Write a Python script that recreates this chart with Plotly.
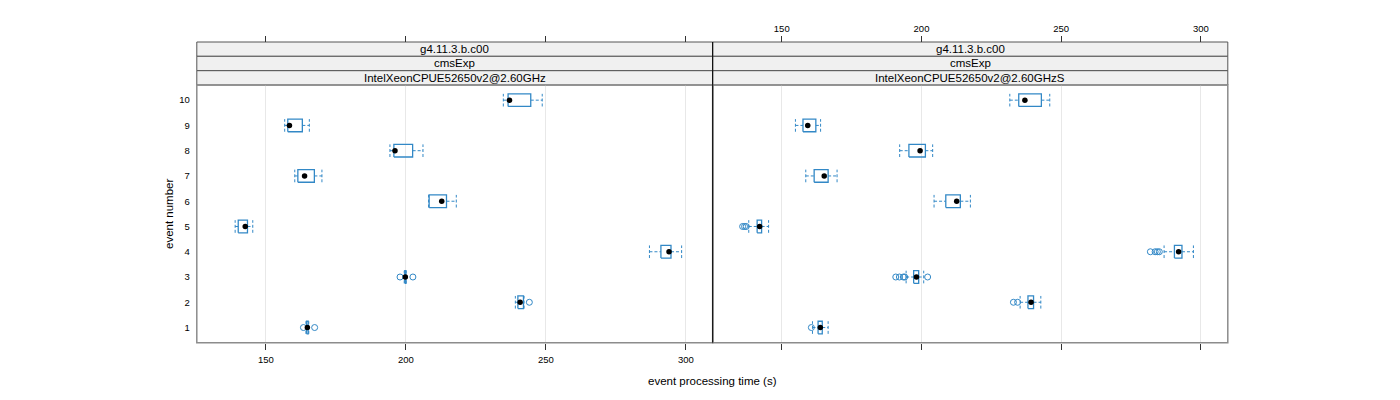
import plotly.graph_objects as go

# ---------------- data ----------------
events = [1, 2, 3, 4, 5, 6, 7, 8, 9, 10]
strip_top = ["g4.11.3.b.c00", "g4.11.3.b.c00"]
strip_mid = ["cmsExp", "cmsExp"]
strip_bot = ["IntelXeonCPUE52650v2@2.60GHz", "IntelXeonCPUE52650v2@2.60GHzS"]
x_ticks = [150, 200, 250, 300]
y_ticks = [1, 2, 3, 4, 5, 6, 7, 8, 9, 10]

# panel 1 (IntelXeonCPUE52650v2@2.60GHz)
p1_wlo = [164.3, 239.1, 199.4, 287.0, 139.0, 208.1, 160.3, 194.3, 156.7, 234.8]
p1_q1  = [164.5, 240.0, 199.6, 291.1, 140.1, 208.3, 161.4, 195.7, 157.8, 236.5]
p1_med = [164.8, 240.8, 199.8, 294.0, 142.6, 212.8, 163.8, 196.1, 158.4, 237.0]
p1_q3  = [165.1, 242.0, 200.0, 294.7, 143.4, 214.5, 167.3, 202.4, 163.0, 244.6]
p1_whi = [165.3, 242.2, 200.1, 298.5, 145.3, 218.0, 170.0, 206.1, 165.5, 248.7]
p1_out_event = [1, 1, 2, 3, 3]
p1_out_val   = [163.4, 167.4, 244.1, 197.9, 202.5]

# panel 2 (IntelXeonCPUE52650v2@2.60GHzS)
p2_wlo = [161.0, 235.3, 194.5, 286.8, 138.2, 204.5, 158.6, 192.2, 154.9, 231.6]
p2_q1  = [163.0, 238.1, 197.2, 290.5, 141.2, 208.7, 161.6, 195.5, 157.6, 234.8]
p2_med = [163.8, 239.2, 198.2, 292.0, 142.1, 212.6, 165.2, 199.5, 159.3, 237.0]
p2_q3  = [164.5, 240.1, 199.0, 293.2, 142.8, 213.9, 166.6, 201.4, 162.2, 242.9]
p2_whi = [166.6, 242.7, 200.8, 297.3, 145.3, 217.5, 169.8, 204.0, 163.9, 245.9]
p2_out_event = [1, 2, 2, 3, 3, 3, 3, 3, 4, 4, 4, 4, 5, 5, 5]
p2_out_val   = [160.6, 232.9, 234.4, 190.8, 192.1, 193.5, 194.0, 202.2,
                281.9, 283.6, 284.4, 285.1, 136.0, 136.7, 137.3]

X_RANGE = [125.3, 309.6]
Y_RANGE = [0.4, 10.6]
HALF = 0.25

BLUE = "#3288c6"
FONT = "Liberation Sans, Arial, sans-serif"

W, H = 1400, 400
def px(x): return x / W
def py(y): return 1 - y / H

left_dom = [px(196.8), px(712.7)]
right_dom = [px(712.7), px(1227.8)]
y_dom = [py(342.7), py(85)]
strip_lines = [42, 56.3, 70.7, 85]

fig = go.Figure()

def add_panel(xa, wlo, q1, med, q3, whi, oe, ov):
    bx, by, wx, wy, cx, cy = [], [], [], [], [], []
    for e, a, b, m, c, d in zip(events, wlo, q1, med, q3, whi):
        bx += [b, c, c, b, b, None]
        by += [e - HALF, e - HALF, e + HALF, e + HALF, e - HALF, None]
        wx += [a, b, None, c, d, None]
        wy += [e, e, None, e, e, None]
        cx += [a, a, None, d, d, None]
        cy += [e - HALF, e + HALF, None, e - HALF, e + HALF, None]
    common = dict(xaxis=xa, yaxis="y", showlegend=False, hoverinfo="skip")
    fig.add_trace(go.Scatter(x=wx, y=wy, mode="lines",
                             line=dict(color=BLUE, width=1, dash="3px,2px"), **common))
    fig.add_trace(go.Scatter(x=cx, y=cy, mode="lines",
                             line=dict(color=BLUE, width=1, dash="3px,2px"), **common))
    fig.add_trace(go.Scatter(x=bx, y=by, mode="lines",
                             line=dict(color=BLUE, width=1.3), **common))
    fig.add_trace(go.Scatter(x=ov, y=oe, mode="markers",
                             marker=dict(symbol="circle-open", size=6,
                                         color=BLUE, line=dict(width=1)), **common))
    fig.add_trace(go.Scatter(x=med, y=events, mode="markers",
                             marker=dict(symbol="circle", size=5.5, color="black"), **common))

add_panel("x", p1_wlo, p1_q1, p1_med, p1_q3, p1_whi, p1_out_event, p1_out_val)
add_panel("x2", p2_wlo, p2_q1, p2_med, p2_q3, p2_whi, p2_out_event, p2_out_val)

# invisible traces so the top axes are drawn
for xa in ["x3", "x4"]:
    fig.add_trace(go.Scatter(x=[x_ticks[0]], y=[y_ticks[0]], xaxis=xa, yaxis="y",
                             mode="markers", marker=dict(opacity=0),
                             showlegend=False, hoverinfo="skip"))

tickfont = dict(family=FONT, size=9.5, color="black")
xcommon = dict(range=X_RANGE, tickvals=x_ticks, ticks="outside", ticklen=6,
               tickcolor="#333", tickwidth=1, zeroline=False, showline=False,
               tickfont=tickfont, fixedrange=True)

fig.update_layout(
    width=W, height=H, margin=dict(l=0, r=0, t=0, b=0),
    paper_bgcolor="white", plot_bgcolor="white",
    font=dict(family=FONT, color="black"),
    xaxis=dict(domain=left_dom, anchor="y", showgrid=True, gridcolor="#e8e8e8",
               gridwidth=1, showticklabels=True, ticklabelstandoff=2, **xcommon),
    xaxis2=dict(domain=right_dom, anchor="y", showgrid=True, gridcolor="#e8e8e8",
                gridwidth=1, showticklabels=False, **xcommon),
    xaxis3=dict(overlaying="x", anchor="free", position=py(42), side="top",
                showgrid=False, showticklabels=False, **xcommon),
    xaxis4=dict(overlaying="x2", anchor="free", position=py(42), side="top",
                showgrid=False, showticklabels=True, ticklabelstandoff=0, **xcommon),
    yaxis=dict(domain=y_dom, anchor="x", range=Y_RANGE, tickvals=y_ticks,
               ticks="", showgrid=False, zeroline=False, showline=False,
               tickfont=tickfont, ticklabelstandoff=6, fixedrange=True),
)

shapes = []
# strips
for dom, t1, t2, t3 in zip([left_dom, right_dom], strip_top, strip_mid, strip_bot):
    for i, txt in enumerate([t1, t2, t3]):
        y0, y1 = strip_lines[i + 1], strip_lines[i]
        shapes.append(dict(type="rect", xref="paper", yref="paper",
                           x0=dom[0], x1=dom[1], y0=py(y0), y1=py(y1),
                           fillcolor="#f0f0f0", line=dict(color="#555555", width=1),
                           layer="below"))
        fig.add_annotation(x=(dom[0] + dom[1]) / 2, y=py((y0 + y1) / 2),
                           xref="paper", yref="paper", text=txt, showarrow=False,
                           font=dict(family=FONT, size=11.5, color="black"),
                           xanchor="center", yanchor="middle")
# panel borders
for xa in ["x", "x2"]:
    shapes.append(dict(type="rect", xref=f"{xa} domain", yref="y domain",
                       x0=0, x1=1, y0=0, y1=1,
                       line=dict(color="#8c8c8c", width=1.5), layer="above"))
# black divider between panels
shapes.append(dict(type="line", xref="x domain", yref="paper", x0=1, x1=1,
                   y0=y_dom[0], y1=py(42), line=dict(color="black", width=1),
                   layer="above"))
fig.update_layout(shapes=shapes)

# axis titles
fig.add_annotation(x=px((196.8 + 1227.8) / 2), y=py(381), xref="paper", yref="paper",
                   text="event processing time (s)", showarrow=False,
                   font=dict(family=FONT, size=11.5, color="black"),
                   xanchor="center", yanchor="middle")
fig.add_annotation(x=px(169), y=py(214), xref="paper", yref="paper",
                   text="event number", showarrow=False, textangle=-90,
                   font=dict(family=FONT, size=11.5, color="black"),
                   xanchor="center", yanchor="middle")

fig.write_html("out.html")
